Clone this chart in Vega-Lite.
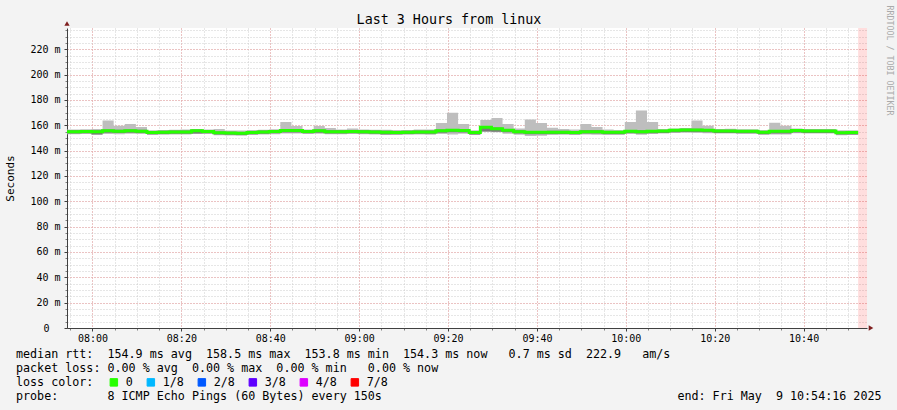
{
  "$schema": "https://vega.github.io/schema/vega-lite/v6.json",
  "width": 800,
  "height": 300,
  "autosize": {"type": "none"},
  "padding": {"left": 67, "top": 28, "right": 30, "bottom": 82},
  "background": "#f3f3f3",
  "config": {
    "view": {"fill": "#ffffff", "stroke": null},
    "font": "DejaVu Sans Mono",
    "axis": {"labelFont": "DejaVu Sans Mono", "titleFont": "DejaVu Sans Mono", "labelColor": "#000000", "titleColor": "#000000", "titleFontWeight": "normal"}
  },
  "datasets": {
    "rtt": [
      {"t":"2025-05-09T07:52:16Z","med":155.0,"lo":153.0,"lo2":153.5,"hi2":156.0,"hi":156.6,"loss":"0"},
      {"t":"2025-05-09T07:54:46Z","med":155.0,"lo":153.0,"lo2":153.5,"hi2":156.0,"hi":156.6,"loss":"0"},
      {"t":"2025-05-09T07:57:16Z","med":155.2,"lo":153.2,"lo2":153.7,"hi2":156.2,"hi":156.8,"loss":"0"},
      {"t":"2025-05-09T07:59:46Z","med":155.0,"lo":152.6,"lo2":152.7,"hi2":156.0,"hi":157.0,"loss":"0"},
      {"t":"2025-05-09T08:02:16Z","med":155.6,"lo":153.2,"lo2":154.1,"hi2":156.6,"hi":163.7,"loss":"0"},
      {"t":"2025-05-09T08:04:46Z","med":155.4,"lo":153.0,"lo2":153.9,"hi2":156.4,"hi":159.7,"loss":"0"},
      {"t":"2025-05-09T08:07:16Z","med":155.6,"lo":153.4,"lo2":154.1,"hi2":156.6,"hi":161.0,"loss":"0"},
      {"t":"2025-05-09T08:09:46Z","med":155.4,"lo":153.2,"lo2":153.9,"hi2":156.4,"hi":158.7,"loss":"0"},
      {"t":"2025-05-09T08:12:16Z","med":154.4,"lo":152.4,"lo2":152.9,"hi2":155.4,"hi":156.0,"loss":"0"},
      {"t":"2025-05-09T08:14:46Z","med":154.6,"lo":152.6,"lo2":153.1,"hi2":155.6,"hi":156.2,"loss":"0"},
      {"t":"2025-05-09T08:17:16Z","med":154.8,"lo":152.8,"lo2":153.3,"hi2":155.8,"hi":156.4,"loss":"0"},
      {"t":"2025-05-09T08:19:46Z","med":154.8,"lo":152.8,"lo2":153.3,"hi2":155.8,"hi":156.6,"loss":"0"},
      {"t":"2025-05-09T08:22:16Z","med":155.6,"lo":153.2,"lo2":153.6,"hi2":156.6,"hi":157.0,"loss":"0"},
      {"t":"2025-05-09T08:24:46Z","med":155.2,"lo":153.2,"lo2":153.7,"hi2":156.2,"hi":156.6,"loss":"0"},
      {"t":"2025-05-09T08:27:16Z","med":154.2,"lo":152.2,"lo2":152.7,"hi2":155.2,"hi":157.1,"loss":"0"},
      {"t":"2025-05-09T08:29:46Z","med":154.0,"lo":152.0,"lo2":152.5,"hi2":155.0,"hi":155.8,"loss":"0"},
      {"t":"2025-05-09T08:32:16Z","med":153.8,"lo":151.8,"lo2":152.3,"hi2":154.8,"hi":155.8,"loss":"0"},
      {"t":"2025-05-09T08:34:46Z","med":154.4,"lo":152.4,"lo2":152.9,"hi2":155.4,"hi":156.2,"loss":"0"},
      {"t":"2025-05-09T08:37:16Z","med":154.8,"lo":152.8,"lo2":153.3,"hi2":155.8,"hi":156.4,"loss":"0"},
      {"t":"2025-05-09T08:39:46Z","med":155.2,"lo":153.0,"lo2":153.7,"hi2":156.2,"hi":156.8,"loss":"0"},
      {"t":"2025-05-09T08:42:16Z","med":155.8,"lo":153.6,"lo2":154.3,"hi2":156.8,"hi":162.6,"loss":"0"},
      {"t":"2025-05-09T08:44:46Z","med":155.8,"lo":153.6,"lo2":154.3,"hi2":156.8,"hi":159.5,"loss":"0"},
      {"t":"2025-05-09T08:47:16Z","med":155.2,"lo":153.2,"lo2":153.7,"hi2":156.2,"hi":156.6,"loss":"0"},
      {"t":"2025-05-09T08:49:46Z","med":155.6,"lo":153.4,"lo2":154.1,"hi2":156.6,"hi":159.5,"loss":"0"},
      {"t":"2025-05-09T08:52:16Z","med":155.0,"lo":153.0,"lo2":153.5,"hi2":156.0,"hi":157.9,"loss":"0"},
      {"t":"2025-05-09T08:54:46Z","med":155.0,"lo":153.0,"lo2":153.5,"hi2":156.0,"hi":156.6,"loss":"0"},
      {"t":"2025-05-09T08:57:16Z","med":155.2,"lo":153.2,"lo2":153.7,"hi2":156.2,"hi":157.4,"loss":"0"},
      {"t":"2025-05-09T08:59:46Z","med":155.0,"lo":153.0,"lo2":153.5,"hi2":156.0,"hi":156.6,"loss":"0"},
      {"t":"2025-05-09T09:02:16Z","med":154.8,"lo":152.8,"lo2":153.3,"hi2":155.8,"hi":156.4,"loss":"0"},
      {"t":"2025-05-09T09:04:46Z","med":154.6,"lo":152.6,"lo2":152.8,"hi2":155.6,"hi":156.4,"loss":"0"},
      {"t":"2025-05-09T09:07:16Z","med":154.4,"lo":152.4,"lo2":152.9,"hi2":155.4,"hi":156.2,"loss":"0"},
      {"t":"2025-05-09T09:09:46Z","med":154.6,"lo":152.6,"lo2":153.1,"hi2":155.6,"hi":156.2,"loss":"0"},
      {"t":"2025-05-09T09:12:16Z","med":154.8,"lo":152.8,"lo2":153.3,"hi2":155.8,"hi":156.6,"loss":"0"},
      {"t":"2025-05-09T09:14:46Z","med":154.8,"lo":152.6,"lo2":153.3,"hi2":155.8,"hi":156.6,"loss":"0"},
      {"t":"2025-05-09T09:17:16Z","med":155.6,"lo":153.2,"lo2":154.1,"hi2":156.6,"hi":161.8,"loss":"0"},
      {"t":"2025-05-09T09:19:46Z","med":156.0,"lo":152.8,"lo2":154.5,"hi2":157.0,"hi":170.0,"loss":"0"},
      {"t":"2025-05-09T09:22:16Z","med":155.8,"lo":153.4,"lo2":154.3,"hi2":156.8,"hi":161.0,"loss":"0"},
      {"t":"2025-05-09T09:24:46Z","med":154.3,"lo":152.3,"lo2":152.8,"hi2":155.3,"hi":156.0,"loss":"0"},
      {"t":"2025-05-09T09:27:16Z","med":158.5,"lo":155.0,"lo2":155.2,"hi2":159.5,"hi":164.2,"loss":"0"},
      {"t":"2025-05-09T09:29:46Z","med":157.2,"lo":154.6,"lo2":154.9,"hi2":158.2,"hi":165.8,"loss":"0"},
      {"t":"2025-05-09T09:32:16Z","med":156.0,"lo":153.4,"lo2":154.5,"hi2":157.0,"hi":161.0,"loss":"0"},
      {"t":"2025-05-09T09:34:46Z","med":155.0,"lo":152.6,"lo2":153.5,"hi2":156.0,"hi":157.4,"loss":"0"},
      {"t":"2025-05-09T09:37:16Z","med":154.5,"lo":151.5,"lo2":153.0,"hi2":155.5,"hi":164.5,"loss":"0"},
      {"t":"2025-05-09T09:39:46Z","med":154.5,"lo":151.8,"lo2":153.0,"hi2":155.5,"hi":161.8,"loss":"0"},
      {"t":"2025-05-09T09:42:16Z","med":154.6,"lo":152.4,"lo2":153.1,"hi2":155.6,"hi":158.0,"loss":"0"},
      {"t":"2025-05-09T09:44:46Z","med":154.6,"lo":152.6,"lo2":153.1,"hi2":155.6,"hi":157.0,"loss":"0"},
      {"t":"2025-05-09T09:47:16Z","med":154.4,"lo":152.4,"lo2":152.9,"hi2":155.4,"hi":156.6,"loss":"0"},
      {"t":"2025-05-09T09:49:46Z","med":155.0,"lo":152.8,"lo2":153.5,"hi2":156.0,"hi":161.0,"loss":"0"},
      {"t":"2025-05-09T09:52:16Z","med":155.0,"lo":152.6,"lo2":153.5,"hi2":156.0,"hi":158.7,"loss":"0"},
      {"t":"2025-05-09T09:54:46Z","med":154.5,"lo":152.5,"lo2":153.0,"hi2":155.5,"hi":156.6,"loss":"0"},
      {"t":"2025-05-09T09:57:16Z","med":154.5,"lo":152.5,"lo2":153.0,"hi2":155.5,"hi":156.2,"loss":"0"},
      {"t":"2025-05-09T09:59:46Z","med":155.3,"lo":153.3,"lo2":153.8,"hi2":156.3,"hi":162.6,"loss":"0"},
      {"t":"2025-05-09T10:02:16Z","med":155.0,"lo":152.6,"lo2":153.5,"hi2":156.0,"hi":171.6,"loss":"0"},
      {"t":"2025-05-09T10:04:46Z","med":155.3,"lo":153.1,"lo2":153.8,"hi2":156.3,"hi":162.6,"loss":"0"},
      {"t":"2025-05-09T10:07:16Z","med":155.5,"lo":153.5,"lo2":154.0,"hi2":156.5,"hi":156.8,"loss":"0"},
      {"t":"2025-05-09T10:09:46Z","med":156.0,"lo":154.0,"lo2":154.5,"hi2":157.0,"hi":157.4,"loss":"0"},
      {"t":"2025-05-09T10:12:16Z","med":156.3,"lo":154.2,"lo2":154.8,"hi2":157.3,"hi":157.9,"loss":"0"},
      {"t":"2025-05-09T10:14:46Z","med":156.3,"lo":154.0,"lo2":154.8,"hi2":157.3,"hi":163.7,"loss":"0"},
      {"t":"2025-05-09T10:17:16Z","med":156.0,"lo":153.8,"lo2":154.5,"hi2":157.0,"hi":159.7,"loss":"0"},
      {"t":"2025-05-09T10:19:46Z","med":155.5,"lo":153.5,"lo2":154.0,"hi2":156.5,"hi":157.1,"loss":"0"},
      {"t":"2025-05-09T10:22:16Z","med":155.5,"lo":153.5,"lo2":154.0,"hi2":156.5,"hi":157.3,"loss":"0"},
      {"t":"2025-05-09T10:24:46Z","med":155.3,"lo":153.3,"lo2":153.8,"hi2":156.3,"hi":156.9,"loss":"0"},
      {"t":"2025-05-09T10:27:16Z","med":155.3,"lo":153.3,"lo2":153.8,"hi2":156.3,"hi":156.9,"loss":"0"},
      {"t":"2025-05-09T10:29:46Z","med":154.5,"lo":152.5,"lo2":153.0,"hi2":155.5,"hi":156.2,"loss":"0"},
      {"t":"2025-05-09T10:32:16Z","med":155.3,"lo":152.8,"lo2":153.6,"hi2":156.3,"hi":162.1,"loss":"0"},
      {"t":"2025-05-09T10:34:46Z","med":155.3,"lo":152.8,"lo2":153.6,"hi2":156.3,"hi":159.7,"loss":"0"},
      {"t":"2025-05-09T10:37:16Z","med":155.8,"lo":153.8,"lo2":154.3,"hi2":156.8,"hi":157.4,"loss":"0"},
      {"t":"2025-05-09T10:39:46Z","med":155.5,"lo":153.5,"lo2":154.0,"hi2":156.5,"hi":157.1,"loss":"0"},
      {"t":"2025-05-09T10:42:16Z","med":155.5,"lo":153.5,"lo2":154.0,"hi2":156.5,"hi":157.1,"loss":"0"},
      {"t":"2025-05-09T10:44:46Z","med":155.5,"lo":153.5,"lo2":154.0,"hi2":156.5,"hi":157.1,"loss":"0"},
      {"t":"2025-05-09T10:47:16Z","med":154.2,"lo":152.2,"lo2":152.7,"hi2":155.2,"hi":156.0,"loss":"0"},
      {"t":"2025-05-09T10:49:46Z","med":154.3,"lo":152.3,"lo2":152.8,"hi2":155.3,"hi":156.0,"loss":"0"},
      {"t":"2025-05-09T10:52:16Z","med":154.3,"lo":152.3,"lo2":152.8,"hi2":155.3,"hi":156.0,"loss":"0"}
    ],
    "unknown": [{"start": "2025-05-09T10:52:16Z", "end": "2025-05-09T10:54:16Z"}]
  },
  "layer": [
    {
      "data": {"name": "rtt"},
      "mark": {"type": "area", "interpolate": "step-after", "color": "#bebebe", "opacity": 1, "clip": true},
      "encoding": {
        "x": {"field": "t", "type": "temporal",
          "scale": {"type": "utc", "nice": false, "domain": [1746777256000, 1746788056000]},
          "axis": {"orient": "bottom", "title": null, "labels": false, "domain": false, "ticks": true, "tickSize": 2, "tickColor": "#808080", "grid": true, "gridColor": "#cccccc", "gridDash": [1, 2], "tickCount": 36}},
        "y": {"field": "lo", "type": "quantitative",
          "scale": {"domain": [0, 236.8], "nice": false},
          "axis": {"orient": "left", "title": null, "labels": true, "labelExpr": "datum.value == 0 ? '0' : ''", "labelFontSize": 10, "labelPadding": 16, "labelOverlap": false, "labelFlush": false, "domain": false, "ticks": true, "tickSize": 2, "tickColor": "#808080", "grid": true, "gridColor": "#cccccc", "gridDash": [1, 2], "tickCount": 48}},
        "y2": {"field": "hi"}
      }
    },
    {
      "data": {"name": "rtt"},
      "mark": {"type": "area", "interpolate": "step-after", "color": "#7a7a7a", "opacity": 1, "clip": true},
      "encoding": {
        "x": {"field": "t", "type": "temporal", "axis": null},
        "y": {"field": "lo2", "type": "quantitative", "axis": null},
        "y2": {"field": "hi2"}
      }
    },
    {
      "data": {"name": "unknown"},
      "mark": {"type": "rect", "color": "#ff0000", "opacity": 0.13, "clip": true},
      "encoding": {
        "x": {"field": "start", "type": "temporal", "axis": null},
        "x2": {"field": "end"}
      }
    },
    {
      "data": {"name": "rtt"},
      "mark": {"type": "line", "interpolate": "step-after", "strokeWidth": 3, "clip": true},
      "encoding": {
        "x": {"field": "t", "type": "temporal",
          "axis": {"orient": "bottom", "labelExpr": "utcFormat(datum.value, '%H:%M')", "labelFontSize": 10, "labelPadding": 2, "labelFlush": false, "labelOverlap": false, "tickSize": 3, "tickColor": "#404040", "domain": true, "domainColor": "#404040", "grid": true, "gridColor": "#f0a0a0", "gridDash": [1, 2],
            "values": [1746777600000, 1746778800000, 1746780000000, 1746781200000, 1746782400000, 1746783600000, 1746784800000, 1746786000000, 1746787200000],
            "title": ["median rtt:\u00a0\u00a0154.9 ms avg\u00a0\u00a0158.5 ms max\u00a0\u00a0153.8 ms min\u00a0\u00a0154.3 ms now\u00a0\u00a0\u00a00.7 ms sd\u00a0\u00a0222.9\u00a0\u00a0\u00a0am/s", "packet loss: 0.00 % avg\u00a0\u00a00.00 % max\u00a0\u00a00.00 % min\u00a0\u00a0\u00a00.00 % now", "loss color:", "probe:\u00a0\u00a0\u00a0\u00a0\u00a0\u00a0\u00a08 ICMP Echo Pings (60 Bytes) every 150s\u00a0\u00a0\u00a0\u00a0\u00a0\u00a0\u00a0\u00a0\u00a0\u00a0\u00a0\u00a0\u00a0\u00a0\u00a0\u00a0\u00a0\u00a0\u00a0\u00a0\u00a0\u00a0\u00a0\u00a0\u00a0\u00a0\u00a0\u00a0\u00a0\u00a0\u00a0\u00a0\u00a0\u00a0\u00a0\u00a0\u00a0\u00a0\u00a0\u00a0\u00a0\u00a0end: Fri May\u00a0\u00a09 10:54:16 2025"],
            "titleX": -51.5, "titleY": 20.3, "titleAlign": "left", "titleBaseline": "top", "titleAngle": 0, "titleFontSize": 11.7, "titleLineHeight": 14, "titleLimit": 2000}},
        "y": {"field": "med", "type": "quantitative",
          "axis": {"orient": "left", "title": "Seconds", "titleX": -56.5, "titleY": 150, "titleAlign": "center", "titleBaseline": "middle", "titleAngle": 270, "titleFontSize": 11, "labelExpr": "datum.value == 0 ? '' : datum.value + ' m'", "labelFontSize": 10, "labelPadding": 4, "labelFlush": false, "labelOverlap": false, "tickSize": 3, "tickColor": "#404040", "domain": true, "domainColor": "#404040", "grid": true, "gridColor": "#f0a0a0", "gridDash": [1, 2], "tickCount": 12}},
        "color": {"field": "loss", "type": "nominal",
          "scale": {"domain": ["0", "1/8", "2/8", "3/8", "4/8", "7/8"], "range": ["#26ff00", "#00b8ff", "#0059ff", "#5e00ff", "#dd00ff", "#ff0000"]},
          "legend": {"orient": "none", "legendX": 41, "legendY": 348.3, "direction": "horizontal", "title": null, "labelFont": "DejaVu Sans Mono", "labelFontSize": 11.7, "labelColor": "#000000", "labelOffset": 6, "columnPadding": 12, "padding": 0, "symbolType": "square", "symbolSize": 56, "symbolStrokeWidth": 1, "symbolStrokeColor": "#202020",
            "encode": {"symbols": {"update": {"fill": {"scale": "color", "field": "value"}, "fillOpacity": {"value": 1}, "stroke": {"value": "#202020"}, "strokeWidth": {"value": 1}, "opacity": {"value": 1}}}}}}
      }
    },
    {
      "data": {"values": [{"arrow": "y"}]},
      "mark": {"type": "point", "shape": "triangle-up", "filled": true, "color": "#7f1f1f", "size": 28, "opacity": 1, "yOffset": -4.5},
      "encoding": {
        "x": {"datum": 1746777256000, "type": "temporal",
          "axis": {"orient": "top", "title": "Last 3 Hours from linux", "titleX": 381.5, "titleY": -9, "titleAlign": "center", "titleBaseline": "middle", "titleFontSize": 13.35, "titleFontWeight": "normal", "titleColor": "#000000", "labels": false, "ticks": false, "domain": false, "grid": false}},
        "y": {"datum": 236.8, "type": "quantitative",
          "axis": {"orient": "right", "title": "RRDTOOL / TOBI OETIKER", "titleX": 21, "titleY": 32, "titleAngle": 90, "titleAlign": "center", "titleBaseline": "middle", "titleFontSize": 8.3, "titleColor": "#aaaaaa", "labels": false, "ticks": false, "domain": false, "grid": false}}
      }
    },
    {
      "data": {"values": [{"arrow": "x"}]},
      "mark": {"type": "point", "shape": "triangle-right", "filled": true, "color": "#7f1f1f", "size": 28, "opacity": 1, "xOffset": 4},
      "encoding": {
        "x": {"datum": 1746788056000, "type": "temporal", "axis": null},
        "y": {"datum": 0, "type": "quantitative", "axis": null}
      }
    }
  ],
  "resolve": {"axis": {"x": "independent", "y": "independent"}}
}
